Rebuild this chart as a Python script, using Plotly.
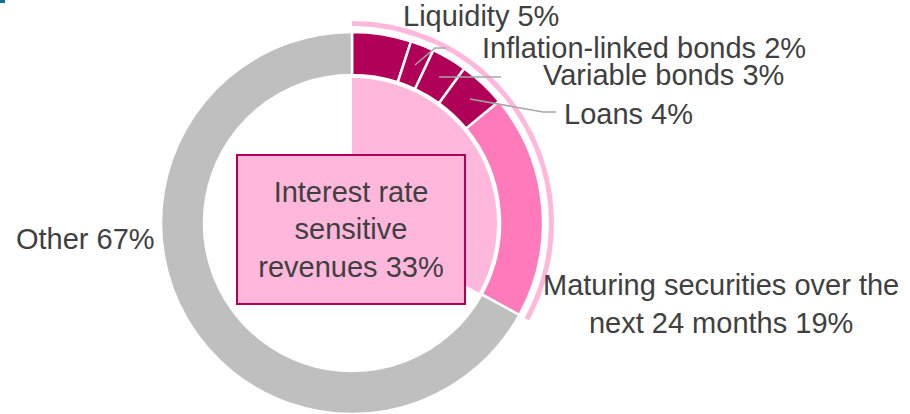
import numpy as np
import plotly.graph_objects as go

# ---------------- data ----------------
segment_labels = ["Liquidity", "Inflation-linked bonds", "Variable bonds", "Loans",
                  "Maturing securities over the<br>next 24 months"]
segment_values = [5, 2, 3, 4, 19]
other_label = "Other"
other_value = 67
sensitive_label = "Interest rate<br>sensitive<br>revenues"
sensitive_value = 33

# ---------------- layout constants ----------------
W, H = 910, 414
CX, CY = 352, 223          # pie centre in pixels (from top-left)
R_OUT, R_RING_IN = 191, 148
R_PIE = 145
R_ARC_IN, R_ARC_OUT = 197, 202

DARK = "#B00058"
MID = "#FF7ABA"
LIGHT = "#FFB8DC"
GREY = "#BFBFBF"
TXT = "#404040"
FONT = "Liberation Sans, Arial, sans-serif"


def dom(r):
    return dict(x=[(CX - r) / W, (CX + r) / W],
                y=[max(0, (H - CY - r) / H), min(1, (H - CY + r) / H)])


fig = go.Figure()

# thin outer arc marking the interest-rate-sensitive share (drawn on hidden axes)
theta = np.linspace(0, 2 * np.pi * sensitive_value / 100, 160)
xs = np.concatenate([CX + R_ARC_OUT * np.sin(theta), CX + R_ARC_IN * np.sin(theta[::-1])])
ys = np.concatenate([CY - R_ARC_OUT * np.cos(theta), CY - R_ARC_IN * np.cos(theta[::-1])])
fig.add_trace(go.Scatter(x=xs, y=ys, mode="lines", fill="toself", fillcolor=LIGHT,
                         line=dict(width=0, color=LIGHT), hoverinfo="skip", showlegend=False))

# inner pie (sensitive share only)
fig.add_trace(go.Pie(values=[sensitive_value, other_value],
                     labels=["Interest rate sensitive revenues", other_label],
                     marker=dict(colors=[LIGHT, "rgba(0,0,0,0)"], line=dict(width=0)),
                     sort=False, direction="clockwise", rotation=0,
                     textinfo="none", domain=dom(R_PIE), showlegend=False,
                     hoverinfo="label+percent"))

# outer ring
fig.add_trace(go.Pie(values=segment_values + [other_value],
                     labels=[l.replace("<br>", " ") for l in segment_labels] + [other_label],
                     marker=dict(colors=[DARK] * 4 + [MID, GREY],
                                 line=dict(color="white", width=2.5)),
                     hole=R_RING_IN / R_OUT,
                     sort=False, direction="clockwise", rotation=0,
                     textinfo="none", domain=dom(R_OUT), showlegend=False,
                     hoverinfo="label+percent"))

# leader lines
leaders = [
    "M 415 65 L 435 48 L 446 48",
    "M 439 77 L 501 77",
    "M 470 99 L 543 112 L 556 112",
]
shapes = [dict(type="path", path=p, xref="x", yref="y", layer="above",
               line=dict(color="#A6A6A6", width=1.5)) for p in leaders]
# small corner mark at top-left
shapes.append(dict(type="rect", xref="paper", yref="paper", x0=0, x1=5 / W,
                   y0=1 - 3 / H, y1=1, fillcolor="#0F7399", line=dict(width=0), layer="above"))

# labels
label_pos = [(481, 16), (644, 48), (663, 75), (628, 114), (721, 304)]
annotations = []
for lab, val, (x, y) in zip(segment_labels, segment_values, label_pos):
    annotations.append(dict(x=x, y=y, xref="x", yref="y", text=f"{lab} {val}%",
                            showarrow=False, font=dict(size=29, color=TXT, family=FONT),
                            align="center"))
annotations.append(dict(x=85, y=239, xref="x", yref="y", text=f"{other_label} {other_value}%",
                        showarrow=False, font=dict(size=29, color=TXT, family=FONT)))
annotations.append(dict(x=351, y=229, xref="x", yref="y",
                        text=f"{sensitive_label} {sensitive_value}%",
                        showarrow=False, font=dict(size=29, color=TXT, family=FONT),
                        bgcolor=LIGHT, bordercolor=DARK, borderwidth=2, borderpad=0,
                        width=226, height=147, align="center", valign="middle"))

fig.update_layout(
    width=W, height=H, margin=dict(l=0, r=0, t=0, b=0),
    paper_bgcolor="white", plot_bgcolor="white",
    xaxis=dict(range=[0, W], visible=False, fixedrange=True),
    yaxis=dict(range=[H, 0], visible=False, fixedrange=True),
    shapes=shapes, annotations=annotations, showlegend=False,
)

fig.write_html("out.html", config={"displayModeBar": False},
               post_script="document.body.style.margin='0px';document.body.style.overflow='hidden';")
